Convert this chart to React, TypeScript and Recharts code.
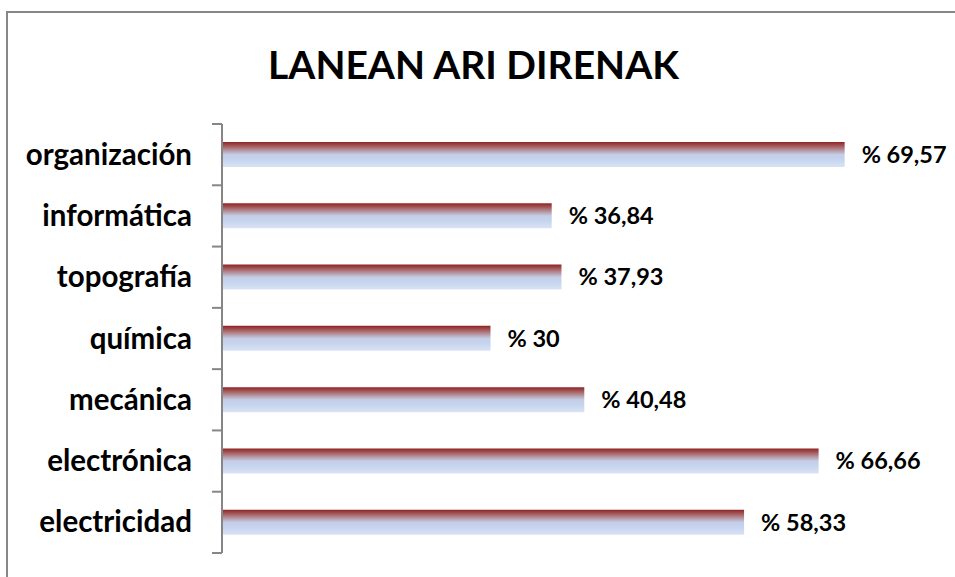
import React from "react";
import { BarChart, Bar, XAxis, YAxis, LabelList } from "recharts";

const categories = ["organización", "informática", "topografía", "química", "mecánica", "electrónica", "electricidad"];
const values = [69.57, 36.84, 37.93, 30, 40.48, 66.66, 58.33];
const valueLabels = ["% 69,57", "% 36,84", "% 37,93", "% 30", "% 40,48", "% 66,66", "% 58,33"];
const title = "LANEAN ARI DIRENAK";

const data = categories.map((c, i) => ({ name: c, value: values[i], label: valueLabels[i] }));

const W = 955;
const H = 577;
const M = { top: 124, right: 17, bottom: 24, left: 0 };
const band = (H - M.top - M.bottom) / categories.length;

const Tick = (props: any) => {
  const { x, y, payload, index } = props;
  const ax = x + 30;
  return (
    <g>
      <line x1={ax - 10} x2={ax} y1={y - band / 2} y2={y - band / 2} stroke="#868686" strokeWidth={2} />
      {index === categories.length - 1 && (
        <line x1={ax - 10} x2={ax} y1={y + band / 2} y2={y + band / 2} stroke="#868686" strokeWidth={2} />
      )}
      <text x={x} y={y} dy={10} textAnchor="end" fontFamily="Lato" fontWeight={700} fontSize={29.5} fill="#000">
        {payload.value}
      </text>
    </g>
  );
};

export default function App() {
  return (
    <div style={{ position: "absolute", left: 0, top: 0, width: W, height: H, overflow: "hidden", background: "#fff" }}>
      <div
        style={{
          position: "absolute",
          left: 6,
          top: 11,
          width: 980,
          height: 600,
          border: "2px solid #878787",
          boxSizing: "border-box",
        }}
      />
      <div
        style={{
          position: "absolute",
          left: 0,
          top: 40,
          width: 947,
          textAlign: "center",
          fontFamily: "Lato",
          fontWeight: 700,
          fontSize: 39,
          lineHeight: "48px",
          color: "#000",
        }}
      >
        {title}
      </div>
      <div style={{ position: "absolute", left: 0, top: 0 }}>
        <BarChart width={W} height={H} data={data} layout="vertical" margin={M}>
          <defs>
            <linearGradient id="barGrad" x1="0" y1="0" x2="0" y2="1">
              <stop offset="0%" stopColor="#8e2424" />
              <stop offset="12%" stopColor="#a04a4a" />
              <stop offset="30%" stopColor="#b28a93" />
              <stop offset="50%" stopColor="#c3cde6" />
              <stop offset="75%" stopColor="#c8d6ef" />
              <stop offset="100%" stopColor="#dae3f4" />
            </linearGradient>
          </defs>
          <XAxis type="number" domain={[0, 80]} hide />
          <YAxis
            type="category"
            dataKey="name"
            width={222}
            axisLine={{ stroke: "#868686", strokeWidth: 2 }}
            tickLine={false}
            tickMargin={0}
            tick={(p: any) => <Tick {...p} x={p.x - 24} />}
            interval={0}
          />
          <Bar dataKey="value" fill="url(#barGrad)" barSize={25} isAnimationActive={false}>
            <LabelList
              dataKey="label"
              position="right"
              offset={17}
              fontFamily="Lato"
              fontWeight={700}
              fontSize={23.5}
              fill="#000"
            />
          </Bar>
        </BarChart>
      </div>
    </div>
  );
}
